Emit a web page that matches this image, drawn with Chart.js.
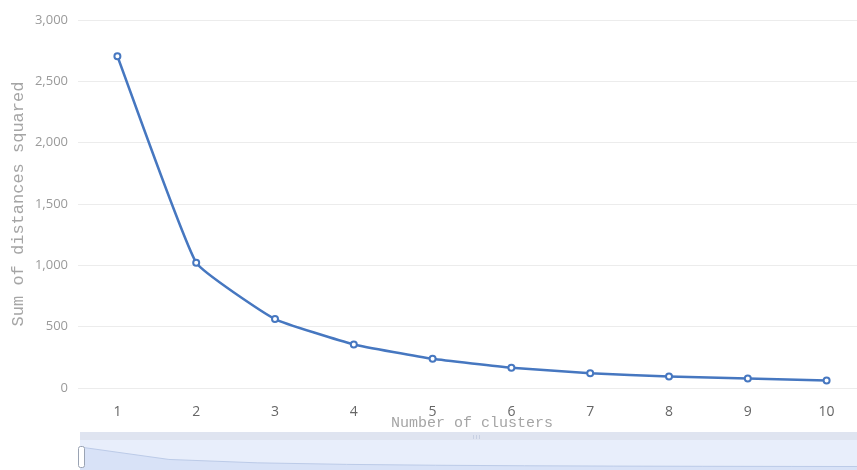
<!DOCTYPE html>
<html>
<head>
<meta charset="utf-8">
<script src="https://cdn.jsdelivr.net/npm/chart.js@4.4.1/dist/chart.umd.min.js"></script>
<style>
  html, body { margin: 0; padding: 0; background: #fff; overflow: hidden; }
  #wrap { width: 857px; height: 470px; overflow: hidden; }
  canvas { display: block; }
</style>
</head>
<body>
<div id="wrap"><canvas id="elbow" width="880" height="470"></canvas></div>
<script>
// elbow curve data
const clusters = ['1', '2', '3', '4', '5', '6', '7', '8', '9', '10'];
const sse = [2705, 1022, 562, 355, 238, 166, 121, 94, 77, 61];
const yTicks = [0, 500, 1000, 1500, 2000, 2500, 3000];

const lineColor = '#4677c0';

// echarts-like dataZoom slider under the chart, shadow built from the data
const sliderPlugin = {
    id: 'slider',
    afterDraw(chart) {
        const c = chart.ctx;
        const left = 80, right = chart.width, top = 432, bottom = chart.height;
        c.save();
        c.fillStyle = '#e8eefb';
        c.fillRect(left, top, right - left, bottom - top);
        c.fillStyle = '#dfe4f0';
        c.fillRect(left, top, right - left, 8);

        // data shadow
        const n = sse.length;
        const maxV = Math.max(...sse);
        const sx = i => left + i * (right - left) / (n - 1);
        const sy = v => 467 - (v / maxV) * 20;
        c.beginPath();
        c.moveTo(sx(0), bottom);
        sse.forEach((v, i) => c.lineTo(sx(i), sy(v)));
        c.lineTo(sx(n - 1), bottom);
        c.closePath();
        c.fillStyle = '#d8e2f7';
        c.fill();
        c.beginPath();
        sse.forEach((v, i) => i ? c.lineTo(sx(i), sy(v)) : c.moveTo(sx(i), sy(v)));
        c.strokeStyle = '#bccbe8';
        c.lineWidth = 1;
        c.stroke();

        // move handle marks
        c.strokeStyle = '#c8d0e2';
        [473, 476, 479].forEach(x => {
            c.beginPath();
            c.moveTo(x + 0.5, 435);
            c.lineTo(x + 0.5, 439);
            c.stroke();
        });

        // left handle
        c.fillStyle = '#fff';
        c.strokeStyle = '#9aa3b3';
        c.beginPath();
        c.roundRect(78.5, 446.5, 6, 21, 2);
        c.fill();
        c.stroke();
        c.restore();
    }
};

new Chart(document.getElementById('elbow'), {
    type: 'line',
    data: {
        labels: clusters,
        datasets: [{
            data: sse,
            borderColor: lineColor,
            borderWidth: 2.5,
            backgroundColor: '#fff',
            pointBackgroundColor: '#fff',
            pointBorderColor: lineColor,
            pointBorderWidth: 2,
            pointRadius: 3,
            tension: 0.12,
            fill: false
        }]
    },
    options: {
        responsive: false,
        animation: false,
        layout: { padding: { top: 20, right: 14, bottom: 38, left: 0 } },
        plugins: {
            legend: { display: false },
            tooltip: { enabled: false }
        },
        scales: {
            x: {
                offset: true,
                grid: { display: false },
                border: { display: false },
                ticks: {
                    color: '#666',
                    padding: 8,
                    font: { family: 'Open Sans', size: 14 }
                },
                title: {
                    display: true,
                    text: 'Number of clusters',
                    color: '#a5a5a5',
                    padding: 0,
                    font: { family: 'Liberation Mono', size: 15 }
                },
                afterFit(scale) { scale.height = 44; }
            },
            y: {
                min: 0,
                max: 3000,
                afterBuildTicks(scale) { scale.ticks = yTicks.map(v => ({ value: v })); },
                grid: { color: '#ececec', lineWidth: 1, drawTicks: false },
                border: { display: false },
                ticks: {
                    color: '#9a9a9a',
                    padding: 10,
                    font: { family: 'Open Sans', size: 13 }
                },
                title: {
                    display: true,
                    text: 'Sum of distances squared',
                    color: '#a5a5a5',
                    padding: { top: 8, bottom: 0 },
                    font: { family: 'Liberation Mono', size: 17 }
                },
                afterFit(scale) { scale.width = 78; }
            }
        }
    },
    plugins: [sliderPlugin]
});
</script>
</body>
</html>
